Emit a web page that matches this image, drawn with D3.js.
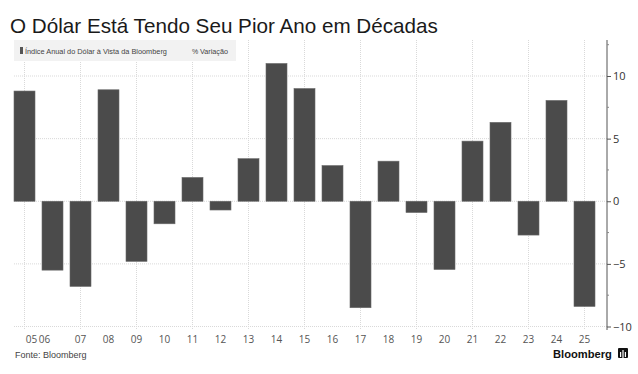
<!DOCTYPE html>
<html><head><meta charset="utf-8">
<script src="https://cdn.jsdelivr.net/npm/d3@7"></script>
<style>
html,body{margin:0;padding:0;background:#fff;}
svg{display:block;font-family:"Liberation Sans",Arial,sans-serif;}
</style></head>
<body>
<svg id="c" width="638" height="374"></svg>
<script>
const years = ["05","06","07","08","09","10","11","12","13","14","15","16","17","18","19","20","21","22","23","24","25"];
const values = [8.8,-5.5,-6.8,8.9,-4.8,-1.8,1.9,-0.7,3.4,11.0,9.0,2.85,-8.5,3.2,-0.9,-5.45,4.8,6.3,-2.7,8.05,-8.4];
const yTicks = [-10,-5,0,5,10];
const labelNudge = {"05":7,"06":-8};
const title = "O Dólar Está Tendo Seu Pior Ano em Décadas";
const legendItems = ["Índice Anual do Dólar à Vista da Bloomberg","Variação"];
const source = "Fonte: Bloomberg";

const svg = d3.select("#c");
const plotTop = 40, plotBottom = 330, plotLeft = 14, plotRight = 607;

const x = d3.scaleBand().domain(years).range([10.5, 598.5]).paddingInner(0.25).paddingOuter(0.125);
const y = d3.scaleLinear().domain([-10, 10]).range([326.5, 76]);

// title
const t = svg.append("text").attr("x", 10).attr("y", 33).attr("font-size", 20).attr("fill", "#1a1a1a")
  .attr("font-family", "'Liberation Sans', Arial, sans-serif").text(title);
const tw = t.node().getComputedTextLength();
t.attr("font-size", 20 * 428 / tw);

// horizontal gridlines
svg.append("g").selectAll("line").data(yTicks).join("line")
  .attr("x1", plotLeft).attr("x2", plotRight)
  .attr("y1", d => y(d)).attr("y2", d => y(d))
  .attr("stroke", "#d9d9d9").attr("stroke-width", 1).attr("stroke-dasharray", "1,1");

// vertical gridlines at odd years
svg.append("g").selectAll("line").data(years.filter((d, i) => i % 2 === 0)).join("line")
  .attr("x1", d => x(d) + x.bandwidth() / 2).attr("x2", d => x(d) + x.bandwidth() / 2)
  .attr("y1", plotTop).attr("y2", plotBottom)
  .attr("stroke", "#d9d9d9").attr("stroke-width", 1).attr("stroke-dasharray", "1,1");

// legend box
svg.append("rect").attr("x", 14).attr("y", 40).attr("width", 222).attr("height", 21).attr("fill", "#f2f2f2");
svg.append("rect").attr("x", 20).attr("y", 47).attr("width", 3).attr("height", 7).attr("fill", "#555");
const l1 = svg.append("text").attr("x", 25).attr("y", 54).attr("font-size", 7.6).attr("fill", "#444").text(legendItems[0]);
l1.attr("font-size", 7.6 * 142 / l1.node().getComputedTextLength());
svg.append("text").attr("x", 192).attr("y", 54).attr("font-size", 7).attr("fill", "#444").text("%");
const l2 = svg.append("text").attr("x", 200).attr("y", 54).attr("font-size", 7.6).attr("fill", "#444").text(legendItems[1]);
l2.attr("font-size", 7.6 * 28 / l2.node().getComputedTextLength());

// bars
svg.append("g").selectAll("rect").data(values).join("rect")
  .attr("x", (d, i) => x(years[i]))
  .attr("width", x.bandwidth())
  .attr("y", d => y(Math.max(0, d)))
  .attr("height", d => Math.abs(y(d) - y(0)))
  .attr("fill", "#4b4b4b").attr("stroke", "#6a6a6a").attr("stroke-width", 0.6);

// right axis
const yAxis = d3.axisRight(y).tickValues(yTicks).tickSize(4).tickPadding(2).tickFormat(d3.format("d"));
const ga = svg.append("g").attr("transform", `translate(${plotRight},0)`).call(yAxis);
ga.select(".domain").remove();
ga.append("line").attr("x1", 0).attr("x2", 0).attr("y1", plotTop).attr("y2", plotBottom).attr("stroke", "#555");
ga.selectAll(".tick line").attr("stroke", "#555");
ga.selectAll(".tick text").attr("font-size", 11).attr("fill", "#333")
  .attr("font-family", "'Open Sans', 'Liberation Sans', sans-serif");
ga.selectAll(".minor").data([-7.5, -2.5, 2.5, 7.5, 12.5]).join("line").attr("class", "minor")
  .attr("x1", 0).attr("x2", 2).attr("y1", d => y(d)).attr("y2", d => y(d)).attr("stroke", "#888");

// bottom labels
const xAxis = d3.axisBottom(x).tickSize(0).tickPadding(0);
const gx = svg.append("g").attr("transform", `translate(0,335)`).call(xAxis);
gx.select(".domain").remove();
gx.selectAll(".tick text").attr("font-size", 10).attr("fill", "#555")
  .attr("font-family", "'Open Sans', 'Liberation Sans', sans-serif")
  .attr("dy", "0.75em")
  .attr("dx", d => labelNudge[d] || 0);

// source
svg.append("text").attr("x", 15).attr("y", 358).attr("font-size", 9).attr("fill", "#444").text(source);

// Bloomberg logo
const bl = svg.append("text").attr("x", 553).attr("y", 358).attr("font-size", 12).attr("font-weight", "bold")
  .attr("fill", "#111").attr("font-family", "'Liberation Sans', Arial, sans-serif").text("Bloomberg");
bl.attr("font-size", 12 * 59 / bl.node().getComputedTextLength());
svg.append("rect").attr("x", 618).attr("y", 348).attr("width", 10).attr("height", 10).attr("rx", 1).attr("fill", "#111");
svg.append("g").selectAll("rect").data([0,1,2]).join("rect")
  .attr("x", i => 620 + i * 2.4).attr("y", i => 350 + (i === 1 ? 0 : 2)).attr("width", 1.2)
  .attr("height", i => i === 1 ? 8 : 5).attr("fill", "#fff");
</script>
</body></html>
